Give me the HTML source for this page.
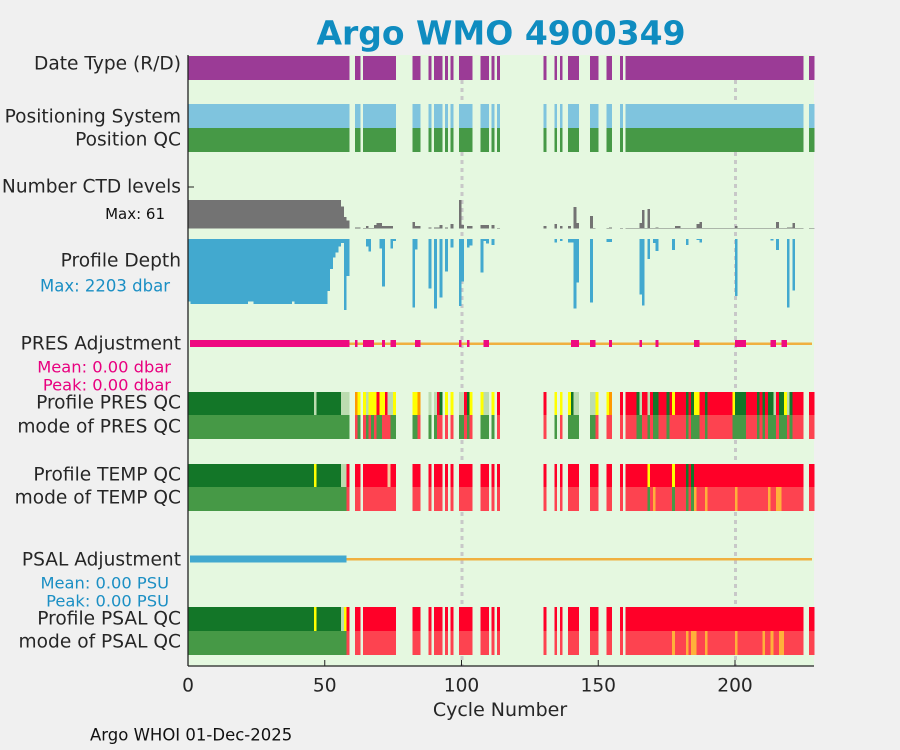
<!DOCTYPE html>
<html><head><meta charset="utf-8"><style>
html,body{margin:0;padding:0;background:#f0f0f0;}
svg{display:block;font-family:"DejaVu Sans","Liberation Sans",sans-serif;}
</style></head><body>
<svg id="chart" width="900" height="750" viewBox="0 0 900 750" xmlns="http://www.w3.org/2000/svg">
<rect x="0" y="0" width="900" height="750" fill="#f0f0f0"/>
<text x="501" y="33" text-anchor="middle" dominant-baseline="central" font-size="33" font-weight="bold" fill="#0f8cc0">Argo WMO 4900349</text>
<rect x="188" y="55" width="626" height="611" fill="#e5f8e0"/>
<g id="grid"></g>
<g id="marks" shape-rendering="crispEdges"></g>
<line x1="188" y1="55" x2="188" y2="666" stroke="#222" stroke-width="1.3"/>
<line x1="188" y1="666" x2="814" y2="666" stroke="#222" stroke-width="1.3"/>
<line x1="188" y1="187" x2="194" y2="187" stroke="#222" stroke-width="1"/>
<g id="xticks"></g>
<g font-size="18.6" fill="#262626" text-anchor="end" dominant-baseline="central">
<text x="181" y="64">Date Type (R/D)</text>
<text x="181" y="117">Positioning System</text>
<text x="181" y="140">Position QC</text>
<text x="181" y="187">Number CTD levels</text>
<text x="181" y="261">Profile Depth</text>
<text x="181" y="344">PRES Adjustment</text>
<text x="181" y="403">Profile PRES QC</text>
<text x="181" y="427">mode of PRES QC</text>
<text x="181" y="475">Profile TEMP QC</text>
<text x="181" y="498">mode of TEMP QC</text>
<text x="181" y="560">PSAL Adjustment</text>
<text x="181" y="619">Profile PSAL QC</text>
<text x="181" y="642">mode of PSAL QC</text>
</g>
<text x="165" y="214" font-size="15" fill="#111" text-anchor="end" dominant-baseline="central">Max: 61</text>
<text x="170" y="286" font-size="16.5" fill="#1b8fc4" text-anchor="end" dominant-baseline="central">Max: 2203 dbar</text>
<text x="171" y="367" font-size="16.3" fill="#e8007f" text-anchor="end" dominant-baseline="central">Mean: 0.00 dbar</text>
<text x="171" y="385" font-size="16.3" fill="#e8007f" text-anchor="end" dominant-baseline="central">Peak: 0.00 dbar</text>
<text x="169" y="583" font-size="16.3" fill="#1b8fc4" text-anchor="end" dominant-baseline="central">Mean: 0.00 PSU</text>
<text x="169" y="601" font-size="16.3" fill="#1b8fc4" text-anchor="end" dominant-baseline="central">Peak: 0.00 PSU</text>
<text x="500" y="710" font-size="19" fill="#262626" text-anchor="middle" dominant-baseline="central">Cycle Number</text>
<text x="90" y="735" font-size="16.5" fill="#111" dominant-baseline="central">Argo WHOI 01-Dec-2025</text>
</svg>
<script>
const xTicks = [0, 50, 100, 150, 200];
const gridCycles = [100, 200];
const presentRanges = [[0,58],[61,62],[64,75],[82,84],[88,88],[90,92],[94,94],[96,96],[99,103],[107,109],[111,111],[113,113],[130,130],[134,134],[136,136],[139,142],[147,149],[153,154],[158,158],[160,224],[227,228]];
const ctdLevels = [[0,55,61],[56,56,47],[57,57,25],[58,58,17],[61,62,3],[64,64,2],[65,65,6],[66,67,2],[68,68,8],[69,70,12],[71,74,6],[82,82,14],[83,84,6],[88,88,3],[90,91,3],[92,92,8],[94,94,3],[96,96,10],[99,99,61],[100,100,8],[102,103,6],[107,109,8],[111,111,8],[113,113,1],[130,130,6],[134,134,10],[136,136,6],[139,139,6],[141,141,46],[142,142,12],[146,146,8],[147,147,27],[148,148,1],[153,153,1],[154,154,3],[158,158,1],[160,164,1],[165,165,12],[166,166,40],[167,167,1],[168,168,42],[169,177,1],[171,171,3],[178,179,6],[180,185,1],[186,186,10],[187,187,14],[188,199,1],[200,200,6],[201,214,1],[215,215,14],[216,218,1],[219,220,3],[221,221,12],[222,224,1],[227,228,1]];
const depthValues = [[0,0,1944],[1,21,2016],[22,23,1944],[24,37,2016],[38,38,1944],[39,50,2016],[51,51,1613],[52,52,930],[53,53,579],[54,54,424],[55,55,238],[56,56,124],[57,57,2203],[58,58,1148],[65,65,238],[66,66,393],[70,70,290],[71,71,1479],[74,74,300],[75,75,62],[82,82,2130],[83,83,320],[88,88,1540],[90,90,2161],[92,92,1820],[94,94,1013],[96,96,269],[99,99,2078],[100,100,1324],[102,102,270],[103,103,207],[107,107,1044],[108,108,62],[109,109,145],[111,111,186],[134,134,114],[136,136,62],[139,140,114],[141,141,2161],[142,142,1355],[147,147,1975],[153,154,100],[165,165,1716],[166,166,2068],[168,168,620],[170,170,120],[171,171,372],[177,177,341],[182,182,186],[186,186,31],[187,187,114],[200,200,1768],[213,213,52],[215,215,341],[219,219,2130],[221,221,1603]];
const presAdjCycles = [[0,58],[61,61],[64,67],[71,71],[74,75],[83,84],[99,99],[102,102],[108,109],[140,142],[147,148],[154,154],[165,165],[171,171],[185,186],[200,203],[213,214],[217,218]];
const psalAdjCycles = [[0,57]];
const presQcProfile = [[0,45,'D'],[46,46,'L'],[47,55,'D'],[56,58,'L'],[61,61,'O'],[62,62,'Y'],[64,64,'Y'],[65,65,'L'],[66,68,'Y'],[70,71,'Y'],[73,74,'L'],[75,75,'Y'],[82,83,'Y'],[84,84,'O'],[88,88,'L'],[90,90,'L'],[92,92,'D'],[94,94,'Y'],[96,96,'Y'],[99,100,'L'],[102,102,'D'],[103,103,'Y'],[107,107,'Y'],[108,109,'L'],[111,111,'Y'],[134,134,'Y'],[136,136,'Y'],[139,139,'Y'],[140,140,'D'],[141,142,'L'],[147,148,'L'],[149,149,'Y'],[153,153,'Y'],[154,154,'O'],[164,164,'D'],[165,165,'L'],[168,168,'L'],[170,171,'D'],[175,175,'D'],[177,177,'Y'],[182,182,'D'],[184,184,'D'],[185,186,'Y'],[189,189,'D'],[199,199,'Y'],[200,203,'D'],[208,208,'D'],[210,210,'D'],[212,213,'D'],[214,214,'L'],[216,217,'D'],[218,218,'Y'],[219,219,'L'],[220,220,'D']];
const presQcMode = [[0,58,'G'],[62,62,'G'],[65,65,'G'],[67,67,'G'],[69,70,'G'],[74,75,'G'],[82,83,'G'],[88,88,'G'],[90,90,'G'],[99,100,'G'],[102,102,'G'],[107,109,'G'],[111,111,'G'],[134,134,'G'],[139,142,'G'],[147,148,'G'],[164,165,'G'],[168,168,'G'],[170,171,'G'],[175,175,'G'],[182,182,'G'],[184,186,'G'],[189,189,'G'],[199,203,'G'],[208,208,'G'],[210,210,'G'],[212,214,'G'],[216,218,'G'],[220,220,'G']];
const tempQcProfile = [[0,45,'D'],[46,46,'Y'],[47,55,'D'],[56,57,'L'],[73,73,'Q'],[168,168,'Y'],[177,177,'Y'],[182,182,'D'],[184,184,'D']];
const tempQcMode = [[0,57,'G'],[168,168,'G'],[170,170,'A'],[177,177,'G'],[182,182,'G'],[184,184,'G'],[185,185,'A'],[189,189,'A'],[200,200,'A'],[212,212,'A'],[215,216,'A']];
const psalQcProfile = [[0,45,'D'],[46,46,'Y'],[47,55,'D'],[56,56,'L'],[57,57,'Y']];
const psalQcMode = [[0,57,'G'],[177,177,'A'],[182,182,'A'],[184,185,'A'],[189,189,'A'],[200,200,'A'],[210,210,'A'],[213,213,'A'],[216,217,'A']];

const COL = {D:'#137628',L:'#bcdcb0',Y:'#ffff00',O:'#ff9900',R:'#ff0028',G:'#469946',P:'#fd4350',A:'#ffb03a',Q:'#f5c9a0'};
const X0 = 188, PX = 2.735;
function xScale(c){ return X0 + PX*c; }
const NS = 'http://www.w3.org/2000/svg';
const marks = document.getElementById('marks');
function mk(tag, attrs, parent){
  const e = document.createElementNS(NS, tag);
  for (const k in attrs) e.setAttribute(k, attrs[k]);
  (parent||marks).appendChild(e);
  return e;
}
const present = [];
presentRanges.forEach(r => { for (let c=r[0]; c<=r[1]; c++) present.push(c); });
function codeMap(segs, def){
  const m = {};
  present.forEach(c => { m[c] = def; });
  segs.forEach(s => { for (let c=s[0]; c<=s[1]; c++) if (c in m) m[c] = s[2]; });
  return m;
}
function runs(keyOf){
  const out = [];
  present.forEach(c => {
    const k = keyOf(c);
    if (k === null || k === undefined) return;
    const last = out[out.length-1];
    if (last && last.end === c-1 && last.key === k) last.end = c;
    else out.push({start:c, end:c, key:k});
  });
  return out;
}
const grid = document.getElementById('grid');
gridCycles.forEach(c => {
  const l = mk('line', {x1:xScale(c)+0.5, x2:xScale(c)+0.5, y1:56, y2:666, stroke:'#c8c8c8', 'stroke-width':3, 'stroke-dasharray':'4 4'}, grid);
  
  
});
function solidRow(y, h, color, name){
  runs(() => 1).forEach(r => {
    const e = mk('rect', {x:xScale(r.start), y:y, width:PX*(r.end-r.start+1), height:h, fill:color});
    
    
  });
}
solidRow(56, 24, '#9b3b96', 'date-type-bar');
solidRow(104, 24, '#7fc4de', 'positioning-system-bar');
solidRow(128, 24, '#469946', 'position-qc-bar');
function qcRow(y, h, segs, def, name){
  const m = codeMap(segs, def);
  runs(c => m[c]).forEach(r => {
    const e = mk('rect', {x:xScale(r.start), y:y, width:PX*(r.end-r.start+1), height:h, fill:COL[r.key]});
    
    
  });
}
qcRow(392, 23.5, presQcProfile, 'R', 'profile-pres-qc');
qcRow(415, 24, presQcMode, 'P', 'mode-pres-qc');
qcRow(464, 23.5, tempQcProfile, 'R', 'profile-temp-qc');
qcRow(487, 24, tempQcMode, 'P', 'mode-temp-qc');
qcRow(607, 24, psalQcProfile, 'R', 'profile-psal-qc');
qcRow(631, 24, psalQcMode, 'P', 'mode-psal-qc');
const ctdBase = 228.7, ctdScale = 28.7/61;
const ctdMap = {};
ctdLevels.forEach(s => { for (let c=s[0]; c<=s[1]; c++) ctdMap[c] = s[2]; });
runs(c => ctdMap[c]).forEach(r => {
  const h = r.key*ctdScale;
  const e = mk('rect', {x:xScale(r.start), y:ctdBase-h, width:PX*(r.end-r.start+1), height:h, fill:'#737373'});
  
  
});
const depTop = 239, depScale = 71/2203;
const depMap = {};
depthValues.forEach(s => { for (let c=s[0]; c<=s[1]; c++) depMap[c] = s[2]; });
runs(c => depMap[c]).forEach(r => {
  const e = mk('rect', {x:xScale(r.start), y:depTop, width:PX*(r.end-r.start+1), height:r.key*depScale, fill:'#42a9cf'});
  
  
});
function adjRow(y, ranges, color, name){
  const base = mk('rect', {x:190, y:y-1, width:622, height:2.5, fill:'#f0b040'});
  
  
  ranges.forEach(r => {
    const x1 = Math.max(xScale(r[0]), 190), x2 = xScale(r[1]+1);
    const e = mk('rect', {x:x1, y:y-3.5, width:x2-x1, height:7, fill:color});
    
    
  });
}
adjRow(343.5, presAdjCycles, '#ee0a80', 'pres-adjustment');
adjRow(559, psalAdjCycles, '#42a9cf', 'psal-adjustment');
const xt = document.getElementById('xticks');
xTicks.forEach(v => {
  const t = mk('line', {x1:xScale(v), x2:xScale(v), y1:660, y2:666, stroke:'#222', 'stroke-width':1}, xt);
  
  
  const lb = mk('text', {x:xScale(v), y:686, 'font-size':18.6, fill:'#262626', 'text-anchor':'middle', 'dominant-baseline':'central'}, xt);
  lb.textContent = v;
  
  
});
</script>
</body></html>
